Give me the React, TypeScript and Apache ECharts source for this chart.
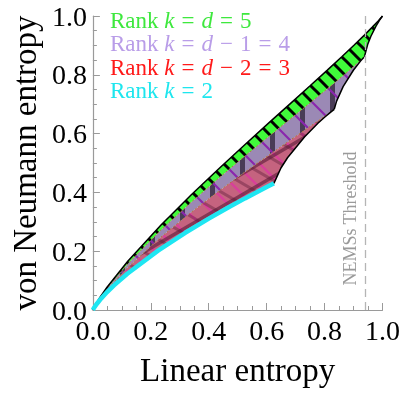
import React, { useEffect, useRef } from 'react';
import * as echarts from 'echarts';

// ---- data (linear entropy, von Neumann entropy) ----
const xTickValues = [0, 0.2, 0.4, 0.6, 0.8, 1.0];
const thresholdX = 0.9375;
const thresholdLabel = 'NEMSs Threshold';

const rank2Curve = [[0, 0], [0.0025, 0.0049], [0.0124, 0.0196], [0.0248, 0.0348], [0.049, 0.0609], [0.0728, 0.0837], [0.1188, 0.1233], [0.225, 0.202], [0.3188, 0.2626], [0.4, 0.3109], [0.4688, 0.3494], [0.525, 0.3796], [0.5688, 0.4023], [0.6, 0.4182], [0.6188, 0.4276], [0.625, 0.4307]];
const rank3Upper = [[0, 0], [0.0025, 0.0053], [0.0125, 0.0217], [0.0248, 0.0391], [0.0493, 0.0695], [0.1203, 0.1449], [0.2313, 0.2451], [0.3328, 0.3272], [0.425, 0.3971], [0.5078, 0.4571], [0.5813, 0.5088], [0.6453, 0.553], [0.7, 0.5904], [0.7453, 0.6214], [0.7813, 0.646], [0.8078, 0.6644], [0.825, 0.6766], [0.8333, 0.6826]];
const rank3Right = [[0.625, 0.4307], [0.6493, 0.483], [0.672, 0.5178], [0.7313, 0.5896], [0.777, 0.635], [0.8, 0.6555], [0.8233, 0.6748], [0.8333, 0.6826]];
const rank4Upper = [[0, 0], [0.0025, 0.0056], [0.0125, 0.023], [0.0248, 0.0416], [0.0493, 0.0746], [0.1208, 0.1575], [0.2333, 0.2703], [0.3375, 0.365], [0.4333, 0.4474], [0.5208, 0.5201], [0.6, 0.5843], [0.6708, 0.6412], [0.7333, 0.6912], [0.7875, 0.7347], [0.8333, 0.772], [0.8708, 0.803], [0.9, 0.8277], [0.9208, 0.846], [0.9333, 0.8574], [0.9375, 0.8614]];
const rank4Right = [[0.8333, 0.6826], [0.8415, 0.7106], [0.864, 0.7597], [0.9, 0.8163], [0.924, 0.8466], [0.936, 0.8598], [0.9375, 0.8614]];
const rank5Upper = [[0, 0], [0.0025, 0.0058], [0.0125, 0.0239], [0.0248, 0.0434], [0.0494, 0.0781], [0.1211, 0.1664], [0.2344, 0.2881], [0.3398, 0.3919], [0.4375, 0.4832], [0.5273, 0.5647], [0.6094, 0.638], [0.6836, 0.7038], [0.75, 0.7627], [0.8086, 0.8152], [0.8594, 0.8614], [0.9023, 0.9013], [0.9375, 0.935], [0.9648, 0.9622], [0.9844, 0.9825], [0.9961, 0.9954], [1, 1]];
const rank5Right = [[0.9375, 0.8614], [0.9494, 0.905], [0.96, 0.9312], [0.9775, 0.9657], [0.99, 0.986], [1, 1]];

const legendItems = [
  { color: '#3ee83e', parts: ['Rank ', 'k', '=', 'd', '=', '5'] },
  { color: '#b99de8', parts: ['Rank ', 'k', '=', 'd', '\u2212', '1', '=', '4'] },
  { color: '#ff1a1a', parts: ['Rank ', 'k', '=', 'd', '\u2212', '2', '=', '3'] },
  { color: '#1ee6ee', parts: ['Rank ', 'k', '=', '2'] },
];

const SERIF = '"Liberation Serif", "Times New Roman", serif';

function makeTile(w: number, h: number, draw: (ctx: CanvasRenderingContext2D) => void) {
  const c = document.createElement('canvas');
  c.width = w;
  c.height = h;
  const ctx = c.getContext('2d') as CanvasRenderingContext2D;
  draw(ctx);
  return { image: c, repeat: 'repeat', imageWidth: w, imageHeight: h };
}

function hatch(ctx: CanvasRenderingContext2D, w: number, h: number, color: string, lw: number, dir: 'back' | 'fwd') {
  ctx.strokeStyle = color;
  ctx.lineWidth = lw;
  for (const dx of [-w, 0, w]) {
    ctx.beginPath();
    if (dir === 'back') {
      ctx.moveTo(dx - w, -h);
      ctx.lineTo(dx + 2 * w, 2 * h);
    } else {
      ctx.moveTo(dx - w, 2 * h);
      ctx.lineTo(dx + 2 * w, -h);
    }
    ctx.stroke();
  }
}

function richText(parts: string[]) {
  return parts
    .map((p) => {
      if (p === 'k' || p === 'd') return `{i|${p}}`;
      if (p === '=' || p === '\u2212') return `{e|${p}}`;
      return `{n|${p}}`;
    })
    .join('');
}

export default function App() {
  const ref = useRef<HTMLDivElement>(null);
  useEffect(() => {
    const chart = echarts.init(ref.current as HTMLDivElement, null, { renderer: 'svg' });

    const greenHatch = makeTile(15, 15, (ctx) => hatch(ctx, 15, 15, '#000000', 3, 'back'));
    const purpleHatch = makeTile(30, 30, (ctx) => hatch(ctx, 30, 30, '#8a26ad', 2.2, 'back'));
    const purpleBars = makeTile(30, 10, (ctx) => {
      ctx.fillStyle = 'rgba(45,35,55,0.75)';
      ctx.fillRect(0, 0, 5, 10);
    });
    const redPink = makeTile(24, 24, (ctx) => hatch(ctx, 24, 24, '#d8409a', 2.4, 'back'));
    const redDarkF = makeTile(36, 21, (ctx) => hatch(ctx, 36, 21, 'rgba(90,25,55,0.6)', 3.5, 'fwd'));
    const redDarkB = makeTile(36, 21, (ctx) => hatch(ctx, 36, 21, 'rgba(90,25,55,0.4)', 3, 'back'));

    const redPoly = [...rank2Curve, ...rank3Right.slice(1), ...rank3Upper.slice().reverse()];
    const purplePoly = [...rank3Upper, ...rank4Right.slice(1), ...rank4Upper.slice().reverse()];
    const greenPoly = [...rank4Upper, ...rank5Right.slice(1), ...rank5Upper.slice().reverse()];

    const lineS = (data: number[][], color: string, width: number, type: any = 'solid', z = 3) => ({
      type: 'line',
      data,
      showSymbol: false,
      symbol: 'none',
      z,
      lineStyle: { color, width, type },
      silent: true,
    });

    const legendGraphics = legendItems.map((it, i) => ({
      type: 'text',
      x: 110,
      y: 20 + i * 23.5,
      style: {
        text: richText(it.parts),
        fill: it.color,
        verticalAlign: 'middle',
        textVerticalAlign: 'middle',
        rich: {
          n: { fontFamily: SERIF, fontSize: 23, fill: it.color, color: it.color },
          i: { fontFamily: SERIF, fontSize: 23, fontStyle: 'italic', fill: it.color, color: it.color },
          e: { fontFamily: SERIF, fontSize: 23, fill: it.color, color: it.color, padding: [0, 7] },
        },
      },
    }));

    chart.setOption({
      animation: false,
      grid: { left: 89, right: 20, top: 16, bottom: 84 },
      xAxis: {
        type: 'value',
        min: 0,
        max: 1,
        interval: 0.2,
        name: 'Linear entropy',
        nameLocation: 'middle',
        nameGap: 43,
        nameTextStyle: { fontFamily: SERIF, fontSize: 33, color: '#000' },
        axisLine: { lineStyle: { color: '#9a9a9a', width: 1.2 } },
        axisTick: { inside: true, length: 7, lineStyle: { color: '#9a9a9a' } },
        minorTick: { show: true, splitNumber: 4, length: 4, lineStyle: { color: '#9a9a9a' } },
        splitLine: { show: false },
        axisLabel: {
          fontFamily: SERIF,
          fontSize: 28,
          color: '#000',
          margin: 6,
          formatter: (v: number) => (xTickValues.some((t) => Math.abs(t - v) < 1e-9) ? v.toFixed(1) : ''),
        },
      },
      yAxis: {
        type: 'value',
        min: 0,
        max: 1,
        interval: 0.2,
        name: 'von Neumann entropy',
        nameLocation: 'middle',
        nameGap: 47,
        nameTextStyle: { fontFamily: SERIF, fontSize: 33, color: '#000' },
        axisLine: { show: true, lineStyle: { color: '#9a9a9a', width: 1.2 } },
        axisTick: { show: true, inside: true, length: 7, lineStyle: { color: '#9a9a9a' } },
        minorTick: { show: true, splitNumber: 4, length: 4, lineStyle: { color: '#9a9a9a' } },
        splitLine: { show: false },
        axisLabel: {
          fontFamily: SERIF,
          fontSize: 28,
          color: '#000',
          margin: 6,
          formatter: (v: number) => v.toFixed(1),
        },
      },
      graphic: legendGraphics,
      series: [
        {
          type: 'custom',
          coordinateSystem: 'cartesian2d',
          data: [[0, 0]],
          z: 1,
          silent: true,
          clip: false,
          renderItem: (params: any, api: any) => {
            const pts = (arr: number[][]) => arr.map((p) => api.coord(p));
            const poly = (arr: number[][], fill: any) => ({
              type: 'polygon',
              shape: { points: pts(arr) },
              style: { fill, stroke: 'none' },
            });
            const tp = api.coord([thresholdX, 0.083]);
            return {
              type: 'group',
              children: [
                poly(redPoly, '#c5637f'),
                poly(redPoly, redPink),
                poly(redPoly, redDarkB),
                poly(redPoly, redDarkF),
                poly(purplePoly, '#9b89b5'),
                poly(purplePoly, purpleBars),
                poly(purplePoly, purpleHatch),
                poly(greenPoly, '#40fb3a'),
                poly(greenPoly, greenHatch),
                {
                  type: 'text',
                  x: tp[0] - 5,
                  y: tp[1],
                  rotation: Math.PI / 2,
                  style: {
                    text: thresholdLabel,
                    fill: '#9a9a9a',
                    font: `18px ${SERIF}`,
                    textAlign: 'left',
                    textVerticalAlign: 'bottom',
                    verticalAlign: 'bottom',
                    align: 'left',
                  },
                },
              ],
            };
          },
        },
        lineS(rank4Upper, '#b0783a', 1, [2, 2]),
        lineS(rank3Upper, '#b0783a', 1, [2, 2]),
        lineS(rank2Curve, '#1ee6f2', 4.5, 'solid', 4),
        lineS(rank5Upper, '#000000', 1.5),
        lineS(rank5Right, '#000000', 1.5),
        lineS(rank4Right, '#000000', 1.5),
        lineS(rank3Right, '#000000', 1.5),
        {
          type: 'line',
          data: [],
          markLine: {
            silent: true,
            symbol: 'none',
            label: { show: false },
            lineStyle: { color: '#b5b5b5', width: 1.3, type: [8, 5] },
            data: [{ xAxis: thresholdX }],
          },
        },
      ],
    });
    return () => chart.dispose();
  }, []);
  return <div ref={ref} style={{ position: 'fixed', left: 0, top: 0, width: 403, height: 394 }} />;
}
